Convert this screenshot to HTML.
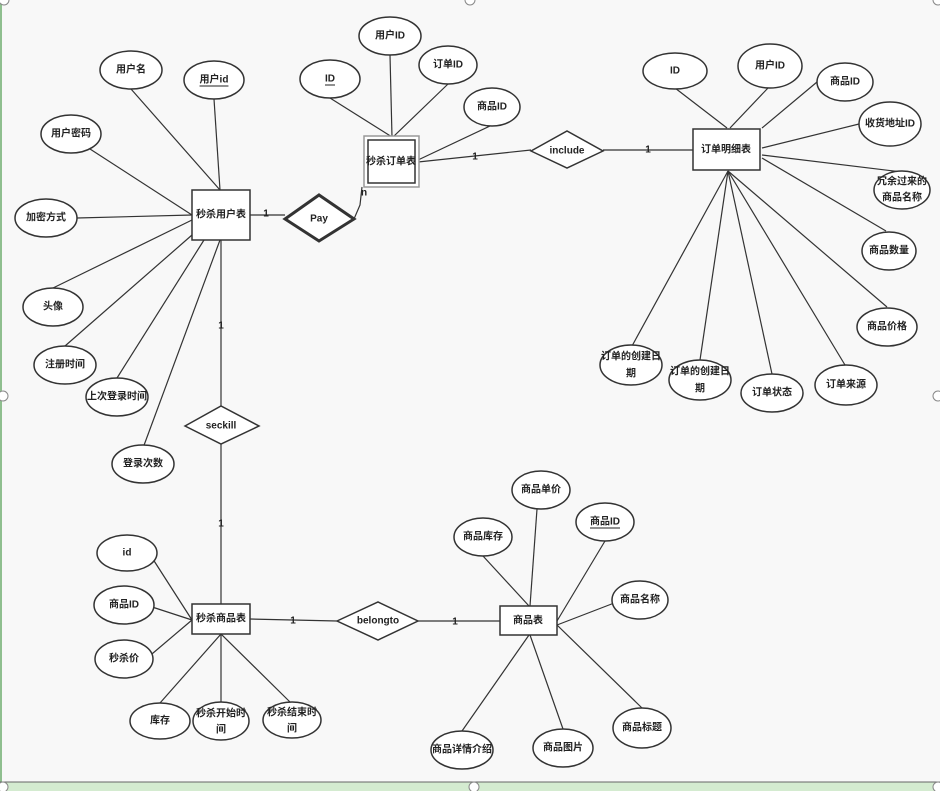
<!DOCTYPE html>
<html><head><meta charset="utf-8"><style>
html,body{margin:0;padding:0;background:#f8f8f8;}
svg{display:block;}
text{font-family:"Liberation Sans","Noto Sans CJK SC",sans-serif;font-size:10px;fill:#222;text-anchor:middle;dominant-baseline:central;font-weight:bold;}
.e{fill:#fff;stroke:#333;stroke-width:1.5;}
.l{stroke:#333;stroke-width:1.2;fill:none;}
</style></head><body>
<svg width="940" height="791" viewBox="0 0 940 791" xmlns="http://www.w3.org/2000/svg">
<rect x="0" y="0" width="940" height="791" fill="#f8f8f8"/>
<rect x="0" y="0" width="2" height="791" fill="#8fbf8f"/>
<rect x="0" y="782" width="940" height="9" fill="#d4ebd0"/>
<line x1="0" y1="782" x2="940" y2="782" stroke="#666" stroke-width="1"/>
<g class="l">
<line x1="131" y1="89" x2="220" y2="190"/>
<line x1="214" y1="99" x2="220" y2="190"/>
<line x1="90" y1="149" x2="192" y2="215"/>
<line x1="77" y1="218" x2="192" y2="215"/>
<line x1="53" y1="288" x2="192" y2="220"/>
<line x1="65" y1="346" x2="192" y2="235"/>
<line x1="117" y1="378" x2="204" y2="240"/>
<line x1="143" y1="448" x2="220" y2="240"/>
<line x1="221" y1="240" x2="221" y2="406"/>
<line x1="221" y1="444" x2="221" y2="604"/>
<polyline points="250,215 285,215"/>
<polyline points="354,219 360,205 362,187"/>
<line x1="330" y1="98" x2="392" y2="137"/>
<line x1="390" y1="55" x2="392" y2="137"/>
<line x1="448" y1="84" x2="393" y2="137"/>
<line x1="490" y1="126" x2="418" y2="160"/>
<line x1="418" y1="162" x2="531" y2="150"/>
<line x1="603" y1="150" x2="693" y2="150"/>
<line x1="675" y1="88" x2="727" y2="128"/>
<line x1="768" y1="88" x2="730" y2="128"/>
<line x1="817" y1="82" x2="762" y2="128"/>
<line x1="859" y1="124" x2="762" y2="148"/>
<line x1="902" y1="172" x2="762" y2="155"/>
<line x1="886" y1="231" x2="762" y2="158"/>
<line x1="887" y1="307" x2="728" y2="171"/>
<line x1="845" y1="365" x2="728" y2="171"/>
<line x1="772" y1="374" x2="728" y2="171"/>
<line x1="700" y1="360" x2="728" y2="171"/>
<line x1="632" y1="346" x2="728" y2="171"/>
<line x1="149" y1="553" x2="192" y2="620"/>
<line x1="146" y1="605" x2="192" y2="620"/>
<line x1="146" y1="659" x2="192" y2="620"/>
<line x1="160" y1="703" x2="221" y2="634"/>
<line x1="221" y1="702" x2="221" y2="634"/>
<line x1="290" y1="702" x2="221" y2="634"/>
<line x1="250" y1="619" x2="337" y2="621"/>
<line x1="418" y1="621" x2="500" y2="621"/>
<line x1="483" y1="556" x2="529" y2="606"/>
<line x1="537" y1="509" x2="530" y2="606"/>
<line x1="605" y1="541" x2="557" y2="621"/>
<line x1="622" y1="600" x2="557" y2="625"/>
<line x1="642" y1="708" x2="557" y2="625"/>
<line x1="563" y1="729" x2="530" y2="635"/>
<line x1="462" y1="731" x2="529" y2="635"/>
</g>
<rect x="192" y="190" width="58" height="50" class="e"/>
<text x="221" y="215">秒杀用户表</text>
<rect x="364" y="136" width="55" height="51" fill="#fff" stroke="#999" stroke-width="1.5"/>
<rect x="368" y="140" width="47" height="43" class="e"/>
<text x="391" y="162">秒杀订单表</text>
<rect x="693" y="129" width="67" height="41" class="e"/>
<text x="726" y="150">订单明细表</text>
<rect x="192" y="604" width="58" height="30" class="e"/>
<text x="221" y="619">秒杀商品表</text>
<rect x="500" y="606" width="57" height="29" class="e"/>
<text x="528" y="621">商品表</text>
<polygon points="285,219 319,195 354,219 319,241" fill="#fff" stroke="#333" stroke-width="3"/>
<text x="319" y="219">Pay</text>
<polygon points="531,151 567,131 603,151 567,168" class="e"/>
<text x="567" y="151">include</text>
<polygon points="185,426 221,406 259,426 221,444" class="e"/>
<text x="221" y="426">seckill</text>
<polygon points="337,621 378,602 418,621 378,640" class="e"/>
<text x="378" y="621">belongto</text>
<g>
<text x="266" y="214">1</text>
<text x="364" y="193">n</text>
<text x="221" y="326">1</text>
<text x="221" y="524">1</text>
<text x="475" y="157">1</text>
<text x="648" y="150">1</text>
<text x="293" y="621">1</text>
<text x="455" y="622">1</text>
</g>
<g>
<ellipse cx="131" cy="70" rx="31" ry="19" class="e"/><text x="131" y="70">用户名</text>
<ellipse cx="214" cy="80" rx="30" ry="19" class="e"/><text x="214" y="80" text-decoration="underline">用户id</text>
<ellipse cx="71" cy="134" rx="30" ry="19" class="e"/><text x="71" y="134">用户密码</text>
<ellipse cx="46" cy="218" rx="31" ry="19" class="e"/><text x="46" y="218">加密方式</text>
<ellipse cx="53" cy="307" rx="30" ry="19" class="e"/><text x="53" y="307">头像</text>
<ellipse cx="65" cy="365" rx="31" ry="19" class="e"/><text x="65" y="365">注册时间</text>
<ellipse cx="117" cy="397" rx="31" ry="19" class="e"/><text x="117" y="397">上次登录时间</text>
<ellipse cx="143" cy="464" rx="31" ry="19" class="e"/><text x="143" y="464">登录次数</text>
<ellipse cx="330" cy="79" rx="30" ry="19" class="e"/><text x="330" y="79" text-decoration="underline">ID</text>
<ellipse cx="390" cy="36" rx="31" ry="19" class="e"/><text x="390" y="36">用户ID</text>
<ellipse cx="448" cy="65" rx="29" ry="19" class="e"/><text x="448" y="65">订单ID</text>
<ellipse cx="492" cy="107" rx="28" ry="19" class="e"/><text x="492" y="107">商品ID</text>
<ellipse cx="675" cy="71" rx="32" ry="18" class="e"/><text x="675" y="71">ID</text>
<ellipse cx="770" cy="66" rx="32" ry="22" class="e"/><text x="770" y="66">用户ID</text>
<ellipse cx="845" cy="82" rx="28" ry="19" class="e"/><text x="845" y="82">商品ID</text>
<ellipse cx="890" cy="124" rx="31" ry="22" class="e"/><text x="890" y="124">收货地址ID</text>
<ellipse cx="902" cy="190" rx="28" ry="19" class="e"/><text x="902" y="182">冗余过来的</text><text x="902" y="198">商品名称</text>
<ellipse cx="889" cy="251" rx="27" ry="19" class="e"/><text x="889" y="251">商品数量</text>
<ellipse cx="887" cy="327" rx="30" ry="19" class="e"/><text x="887" y="327">商品价格</text>
<ellipse cx="846" cy="385" rx="31" ry="20" class="e"/><text x="846" y="385">订单来源</text>
<ellipse cx="772" cy="393" rx="31" ry="19" class="e"/><text x="772" y="393">订单状态</text>
<ellipse cx="700" cy="380" rx="31" ry="20" class="e"/><text x="700" y="372">订单的创建日</text><text x="700" y="389">期</text>
<ellipse cx="631" cy="365" rx="31" ry="20" class="e"/><text x="631" y="357">订单的创建日</text><text x="631" y="374">期</text>
<ellipse cx="127" cy="553" rx="30" ry="18" class="e"/><text x="127" y="553">id</text>
<ellipse cx="124" cy="605" rx="30" ry="19" class="e"/><text x="124" y="605">商品ID</text>
<ellipse cx="124" cy="659" rx="29" ry="19" class="e"/><text x="124" y="659">秒杀价</text>
<ellipse cx="160" cy="721" rx="30" ry="18" class="e"/><text x="160" y="721">库存</text>
<ellipse cx="221" cy="721" rx="28" ry="19" class="e"/><text x="221" y="714">秒杀开始时</text><text x="221" y="730">间</text>
<ellipse cx="292" cy="720" rx="29" ry="18" class="e"/><text x="292" y="713">秒杀结束时</text><text x="292" y="729">间</text>
<ellipse cx="483" cy="537" rx="29" ry="19" class="e"/><text x="483" y="537">商品库存</text>
<ellipse cx="541" cy="490" rx="29" ry="19" class="e"/><text x="541" y="490">商品单价</text>
<ellipse cx="605" cy="522" rx="29" ry="19" class="e"/><text x="605" y="522" text-decoration="underline">商品ID</text>
<ellipse cx="640" cy="600" rx="28" ry="19" class="e"/><text x="640" y="600">商品名称</text>
<ellipse cx="642" cy="728" rx="29" ry="20" class="e"/><text x="642" y="728">商品标题</text>
<ellipse cx="563" cy="748" rx="30" ry="19" class="e"/><text x="563" y="748">商品图片</text>
<ellipse cx="462" cy="750" rx="31" ry="19" class="e"/><text x="462" y="750">商品详情介绍</text>
</g>
<circle cx="4" cy="0" r="5" fill="#fff" stroke="#888"/>
<circle cx="470" cy="0" r="5" fill="#fff" stroke="#888"/>
<circle cx="938" cy="0" r="5" fill="#fff" stroke="#888"/>
<circle cx="3" cy="396" r="5" fill="#fff" stroke="#888"/>
<circle cx="938" cy="396" r="5" fill="#fff" stroke="#888"/>
<circle cx="3" cy="787" r="5" fill="#fff" stroke="#888"/>
<circle cx="474" cy="787" r="5" fill="#fff" stroke="#888"/>
<circle cx="938" cy="787" r="5" fill="#fff" stroke="#888"/>
</svg>
</body></html>
